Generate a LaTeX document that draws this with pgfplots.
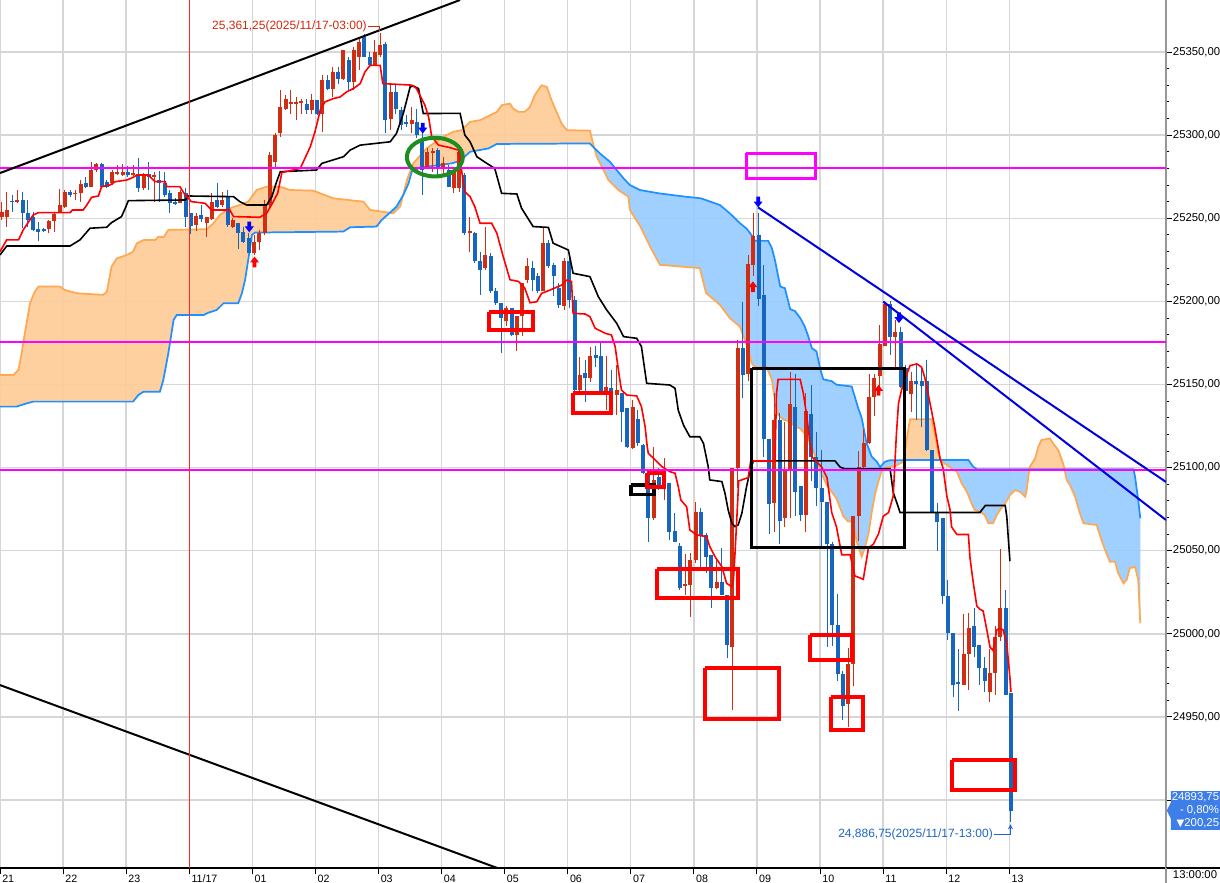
\documentclass[border=0pt]{standalone}
\usepackage{fontspec}
\setmainfont{Liberation Sans}
\newfontfamily\dejavu{DejaVu Sans}
\usepackage{pgfplots}
\usepackage{pgfplotstable}
\pgfplotsset{compat=1.18}
\usepgfplotslibrary{fillbetween}

\definecolor{cup}{RGB}{208,46,18}
\definecolor{cdn}{RGB}{22,102,192}
\definecolor{spanA}{RGB}{255,168,82}
\definecolor{spanB}{RGB}{30,144,255}
\definecolor{fillA}{RGB}{254,204,153}
\definecolor{fillB}{RGB}{153,204,255}
\definecolor{mag}{RGB}{255,0,255}
\definecolor{tblue}{RGB}{0,0,225}
\definecolor{gridc}{RGB}{214,214,214}
\definecolor{annred}{RGB}{210,40,10}
\definecolor{annblue}{RGB}{30,100,200}
\definecolor{boxblue}{RGB}{62,126,232}
\definecolor{grn}{RGB}{30,140,30}
\definecolor{axgray}{RGB}{150,150,150}
\definecolor{seprd}{RGB}{255,40,40}

\pgfdeclareplotmark{darrow}{%
  \pgfpathmoveto{\pgfqpoint{-1.4pt}{4.2pt}}%
  \pgfpathlineto{\pgfqpoint{1.4pt}{4.2pt}}%
  \pgfpathlineto{\pgfqpoint{1.4pt}{0.6pt}}%
  \pgfpathlineto{\pgfqpoint{3.4pt}{0.6pt}}%
  \pgfpathlineto{\pgfqpoint{0pt}{-3.8pt}}%
  \pgfpathlineto{\pgfqpoint{-3.4pt}{0.6pt}}%
  \pgfpathlineto{\pgfqpoint{-1.4pt}{0.6pt}}%
  \pgfpathclose\pgfusepathqfill}
\pgfdeclareplotmark{uarrow}{%
  \pgfpathmoveto{\pgfqpoint{-1.4pt}{-4.2pt}}%
  \pgfpathlineto{\pgfqpoint{1.4pt}{-4.2pt}}%
  \pgfpathlineto{\pgfqpoint{1.4pt}{-0.6pt}}%
  \pgfpathlineto{\pgfqpoint{3.4pt}{-0.6pt}}%
  \pgfpathlineto{\pgfqpoint{0pt}{3.8pt}}%
  \pgfpathlineto{\pgfqpoint{-3.4pt}{-0.6pt}}%
  \pgfpathlineto{\pgfqpoint{-1.4pt}{-0.6pt}}%
  \pgfpathclose\pgfusepathqfill}

\pgfplotstableread{
i o h l c
0 25251 25260 25249 25254
1 25250.6 25266 25245 25255
3 25260 25267 25259 25261
9 25243.4 25249 25241 25248.6
10 25248.6 25254 25242 25252.6
11 25254 25267.5 25254 25258
12 25257 25267 25256 25266
14 25264.4 25267 25261 25265.4
15 25265 25273 25260 25270.4
17 25269 25284 25269 25279
18 25279 25283 25278 25282.6
21 25271 25279 25270 25277.8
22 25276.8 25282 25276 25277.8
23 25276 25282.5 25275.5 25278
25 25276 25282 25275.5 25277
27 25268 25277 25267 25276
29 25275 25278 25260 25276
34 25259 25267 25259 25266
37 25246 25253.4 25242.6 25251.4
39 25247 25251 25239 25250.6
40 25249.4 25265 25249 25260
42 25258 25266 25257 25261
44 25245 25250 25244 25249
48 25229 25240 25228 25236
49 25236 25243 25231 25241
50 25241 25261 25240 25258
51 25258 25290 25256 25288
52 25284 25301 25281 25300
53 25301 25327 25299 25317
54 25316 25324 25315 25322
55 25319 25327 25313 25320
56 25319 25323 25309 25320
57 25319.5 25322 25313 25320.7
59 25315 25325 25313 25321
61 25313 25336 25302 25333
63 25328 25341 25323 25338
65 25334 25351 25333 25351
67 25332 25353 25327 25351
68 25347 25358 25339 25356
71 25342 25357 25342 25350
72 25348 25361.25 25347 25354
74 25310 25331 25303 25326
78 25307 25317 25301 25309
81 25281 25292 25280 25290
82 25289.5 25292 25278 25290.7
84 25281 25287 25276 25283
86 25268 25279 25265 25279
87 25268 25291 25266 25290
89 25241 25251 25230 25242.2
92 25220 25245 25219 25228
96 25188 25197 25185 25196
98 25180 25191 25170 25191
99 25191 25211 25179 25211
100 25213 25226 25211 25221
103 25206 25244 25206 25235
107 25197 25226 25195 25224
110 25146.7 25166.7 25144.7 25155.7
112 25153.7 25172.8 25151.7 25167.1
115 25145.7 25167 25134.6 25148.7
117 25143.7 25161.7 25131.6 25146.7
120 25111.6 25140.7 25111 25136.6
124 25069.5 25112.6 25068.5 25092.6
126 25087.6 25105.6 25080.5 25091.6
130 25029 25048 25023.4 25030.2
131 25029.4 25048.4 25010.4 25044.4
132 25044.4 25079.5 25042.4 25073.5
136 25027.4 25045.4 25026.8 25031.4
139 24992.3 25099.6 24954.2 25099.6
140 25099.6 25176.8 25087.6 25171.8
142 25156.2 25228 25152 25222.7
143 25221.6 25253.3 25215.3 25239.6
147 25079 25144.6 25061 25128.8
149 25069.7 25127.7 25064.4 25098.2
150 25098.2 25157.3 25069.7 25138.3
153 25071.8 25144.6 25061.3 25134
161 24957.9 24991.6 24944.2 24982.1
162 24982.1 25070.8 24968.4 25070.8
163 25070.8 25109.8 25056 25100.3
164 25100.3 25123.5 25100 25115.1
165 25115.1 25156.2 25114 25142.5
166 25142.5 25156.2 25130.9 25154.1
167 25155.2 25185.8 25148.8 25174.1
168 25173.1 25200.5 25173.1 25198.4
170 25178.4 25188.9 25160.4 25181.5
173 25144 25157.3 25133.5 25152
183 24969.4 25011.7 24969.4 24988
184 24988 25012.7 24966.3 25003.4
188 24965.2 24991 24959 24976.6
189 24976.6 25005 24963 24998.3
190 24998.3 25050.9 24996 25015.8
}\upc

\pgfplotstableread{
i o h l c
2 25260.5 25264 25254 25259.5
4 25261 25266 25244 25253.4
5 25253.4 25261 25244.5 25249
6 25250.6 25254 25242.6 25243
7 25243.4 25248 25236.5 25241.8
8 25243.4 25244 25242 25242.4
13 25266 25267 25262.6 25264
16 25271.4 25275 25268 25268.6
19 25282.6 25283 25268 25269
20 25272 25273 25268 25269
24 25277.8 25281.5 25275 25275.8
26 25276.5 25286 25266 25268
28 25276.5 25284 25267 25275
30 25273 25278.6 25260 25271
31 25271 25278 25263 25264
32 25265 25267 25253.4 25259
33 25259.8 25262 25258 25258.8
35 25265 25268 25245 25251
36 25253.4 25253.4 25240.6 25245.4
38 25252 25258 25248 25249.4
41 25261 25271 25256 25257
43 25262.6 25267 25245 25246
45 25247 25247 25231.7 25241
46 25242 25245 25235 25236
47 25238 25241 25229 25229
58 25319 25322 25313 25315
60 25321 25321 25312 25313
62 25333 25336 25327 25328
64 25338 25341 25331 25334
66 25345 25347 25327 25332
69 25359 25361 25347 25347
70 25347 25350 25341 25342
73 25355 25356 25301 25309
75 25326 25331 25313 25316
76 25315 25317 25303 25306
77 25308 25312 25305 25307
79 25308 25316 25298 25300
80 25297 25301 25264 25279
83 25291 25292 25275 25281
85 25279 25282 25269 25269
88 25276 25277 25240 25241
90 25241 25242 25223 25224
91 25224 25230 25204 25219
93 25227.5 25229 25205 25206
94 25206 25208 25198 25199
95 25199 25199 25169 25190
97 25196 25196 25179 25180
101 25220 25224 25206 25213
102 25215 25217 25205 25206
104 25235 25237 25220 25221
105 25222 25223 25203 25215
106 25208 25211 25196 25198
108 25224 25227 25196 25201
109 25200.8 25203 25146 25146.7
111 25156.7 25164.7 25139.7 25153.7
113 25167.7 25173 25160.7 25165.7
114 25167 25175 25145.7 25145.7
116 25147.7 25158.7 25139.7 25143.7
118 25144.7 25144.7 25115.6 25133.6
119 25135.6 25136 25112 25112.6
121 25129 25134.6 25113 25114.6
122 25113.6 25114 25096 25096.6
123 25095.6 25096 25055.5 25069.5
125 25094.6 25100 25086.5 25087.6
127 25091 25091 25056.5 25061.5
128 25062 25072.5 25055.5 25055.5
129 25052.9 25054.5 25026.4 25027.4
133 25073.5 25075.5 25038.4 25059.5
134 25059.5 25060.5 25036.4 25046.4
135 25047.4 25047.4 25015.4 25027.4
137 25031.4 25051.5 25023.4 25023.4
138 25023.4 25023.4 24985.3 24993.3
141 25171.8 25199.8 25141.7 25155.7
144 25240 25253.3 25197.4 25201.6
145 25204 25221.6 25106.6 25117
146 25117 25117 25060 25078
148 25128.8 25133 25053.9 25067.6
151 25136.2 25156.2 25070.8 25085.5
152 25088.7 25088.7 25067.6 25071.8
154 25132 25149.9 25091.9 25106.6
155 25106.6 25121.4 25077 25087.6
156 25087.6 25110.9 25052.8 25079.2
157 25079.2 25079.2 24992 25053.9
158 25053.9 25055 24992.7 25005.4
159 25005.4 25024 24971.6 24975.8
160 24975.8 24977.9 24948.4 24956.9
169 25198.4 25200.5 25167.8 25178.4
171 25181.5 25184.7 25147.8 25148.8
172 25160 25162 25136 25146
174 25152 25162.4 25128.4 25150.5
175 25152 25161.4 25124.2 25149
176 25152 25164.5 25109.8 25110.8
177 25110.8 25110.8 25072.6 25073.6
178 25073.6 25078.8 25049.9 25067.4
179 25069.5 25069.5 25017.9 25023
180 25023 25032.3 24996.2 25000.3
181 25000.3 25000.3 24962.1 24969.3
182 24971 24991 24953.9 24969.8
185 25004.5 25015.8 24985.9 24992.1
186 24993.1 24993.1 24969.4 24979.7
187 24979.7 24985.9 24965.2 24971.4
191 25015.8 25026.2 24963 24963.2
192 24964.2 24964.2 24886.75 24893.75
}\dnc

\begin{document}
\begin{tikzpicture}
\begin{axis}[
  set layers,
  scale only axis, width=874.5pt, height=651.2pt,
  xmin=-0.32, xmax=221.49, ymin=24859, ymax=25381.3,
  axis x line*=bottom, axis y line*=right,
  xtick pos=bottom, ytick pos=right, yticklabel pos=right,
  x axis line style={black, line width=1.5pt, -},
  y axis line style={axgray, line width=1.5pt, -},
  xtick={-0.32,11.68,23.68,47.68,59.68,71.68,83.68,95.68,107.68,119.68,131.68,143.68,155.68,167.68,179.68,191.68},
  xticklabels={21,22,23,01,02,03,04,05,06,07,08,09,10,11,12,13},
  extra x ticks={35.68}, extra x tick labels={11/17},
  extra x tick style={grid=none},
  ytick={24950,25000,...,25350},
  extra y ticks={24900}, extra y tick labels={},
  extra y tick style={grid=major},
  minor y tick num=4,
  scaled y ticks=false,
  tick align=outside,
  major tick length=4.5pt, minor tick length=2.5pt,
  tick style={black, line width=0.75pt},
  grid=major, major grid style={gridc, line width=1pt},
  yticklabel style={font=\fontsize{8.5}{9}\selectfont, anchor=west, inner sep=0.5pt},
  xticklabel style={font=\fontsize{8}{9}\selectfont, anchor=north west, inner sep=0.5pt, xshift=1pt},
  /pgf/number format/fixed, /pgf/number format/fixed zerofill,
  /pgf/number format/precision=2, /pgf/number format/use comma,
  /pgf/number format/1000 sep={}, /pgf/number format/assume math mode=true,
]
% ---- Ichimoku cloud ----
\addplot[name path=A, spanA, line width=1.3pt] coordinates {
(-0.32,25155.7) (2.2,25155.7) (3.2,25158.8) (3.8,25168.8) (4.4,25180.8) (5.4,25198.9) (6.3,25205.9) (7.0,25208.9) (11.1,25208.9) (12.0,25206.9) (14.3,25204.9) (19.3,25203.9) (20.0,25205.9) (20.9,25220.9) (21.9,25225.9) (23.8,25227.9) (25.0,25229.9) (25.7,25234.9) (27.0,25236.9) (29.2,25236.9) (29.8,25238.9) (30.8,25238.6) (31.7,25243.0) (39.0,25243.4) (40.3,25247.0) (41.5,25252.0) (43.4,25256.0) (45.3,25258.0) (46.9,25260.0) (48.5,25267.0) (50.4,25269.0) (53.0,25269.0) (54.8,25267.0) (59.3,25266.6) (60.6,25265.0) (63.1,25262.0) (68.8,25260.0) (70.1,25255.0) (74.5,25253.0) (75.8,25257.0) (76.4,25264.5) (77.2,25274.0) (78.3,25283.0) (80.8,25292.0) (84.0,25299.0) (85.9,25302.0) (87.5,25303.0) (89.1,25308.0) (91.0,25309.0) (92.3,25311.0) (94.2,25314.0) (95.1,25318.0) (96.7,25319.0) (97.3,25316.0) (98.3,25314.0) (99.5,25314.0) (100.5,25317.0) (101.4,25324.0) (102.7,25330.0) (103.7,25329.0) (104.6,25321.0) (106.5,25307.0) (107.5,25303.0) (111.9,25302.7) (112.5,25295.0) (113.2,25287.0) (114.5,25279.0) (115.4,25273.0) (117.3,25267.0) (119.2,25263.0) (119.5,25255.0) (121.5,25245.0) (123.5,25232.0) (125.2,25222.0) (132.8,25220.0) (134.0,25205.0) (136.6,25198.0) (138.5,25190.0) (140.45,25184.7) (141.7,25174.1) (142.7,25162.6) (143.3,25160.4) (145.5,25160.4) (146.5,25153.1) (147.1,25140.4) (147.7,25132.0) (148.7,25128.8) (150.0,25127.7) (150.9,25124.6) (151.9,25123.5) (153.1,25119.3) (154.1,25113.0) (155.0,25104.5) (156.0,25096.1) (156.9,25089.8) (157.9,25085.5) (158.8,25081.3) (160.1,25070.8) (161.0,25067.6) (162.0,25067.6) (162.6,25056.0) (163.6,25046.5) (164.2,25051.8) (164.9,25060.2) (165.5,25072.9) (166.1,25083.4) (166.8,25091.9) (167.4,25098.2) (168.3,25100.0) (170.0,25101.0) (171.5,25103.5) (172.2,25118.0) (172.8,25129.1) (176.9,25129.1) (177.5,25120.6) (178.2,25108.6) (178.8,25103.6) (179.8,25101.6) (181.7,25097.6) (182.6,25090.6) (183.6,25085.5) (184.5,25078.5) (185.1,25074.5) (186.1,25073.5) (187.0,25071.5) (187.7,25066.5) (188.6,25066.5) (189.3,25071.5) (189.9,25074.5) (190.9,25078.5) (191.8,25083.5) (192.8,25086.5) (193.7,25085.5) (194.7,25082.5) (195.0,25086.5) (195.3,25094.6) (195.6,25100.6) (196.6,25105.6) (197.2,25112.6) (197.8,25116.6) (199.4,25117.6) (200.0,25114.6) (201.0,25110.6) (202.0,25101.6) (202.6,25092.6) (203.2,25089.6) (204.2,25082.5) (205.1,25072.5) (205.8,25066.5) (208.3,25065.5) (209.2,25056.5) (209.9,25050.5) (210.8,25043.4) (211.8,25043.4) (212.4,25036.4) (213.4,25030.4) (214.0,25032.4) (214.6,25039.4) (215.6,25040.4) (216.2,25032.4) (216.5,25012.4) (216.6,25006.4)};
\addplot[name path=B, spanB, line width=1.3pt] coordinates {
(-0.32,25136.7) (2.8,25136.7) (4.8,25138.7) (6.0,25139.7) (25.0,25139.7) (26.0,25143.7) (27.0,25145.7) (30.1,25145.7) (30.75,25152.7) (31.7,25168.8) (32.7,25188.8) (33.3,25191.8) (38.4,25191.8) (39.3,25193.2) (40.9,25194.8) (42.2,25198.9) (45.0,25198.9) (45.7,25204.9) (46.3,25212.9) (46.9,25224.9) (47.6,25240.0) (48.2,25241.4) (65.0,25242.0) (66.3,25244.6) (71.3,25245.0) (72.3,25249.0) (73.9,25253.5) (75.1,25257.0) (76.4,25264.0) (77.4,25271.0) (78.0,25278.0) (79.6,25280.5) (85.6,25283.0) (87.2,25284.6) (89.1,25290.0) (92.6,25292.0) (94.2,25294.7) (111.9,25295.0) (113.8,25289.0) (115.7,25284.0) (117.0,25279.0) (118.3,25274.0) (119.5,25270.0) (121.4,25267.0) (125.0,25265.0) (130.0,25263.0) (133.0,25262.0) (136.6,25258.0) (138.5,25253.0) (140.45,25247.0) (141.7,25243.8) (142.7,25239.6) (143.3,25236.4) (145.8,25236.4) (146.5,25232.2) (147.1,25224.8) (148.1,25209.0) (149.0,25207.9) (150.0,25195.3) (150.9,25194.2) (151.9,25190.0) (152.8,25184.7) (153.5,25178.4) (154.1,25172.0) (155.0,25169.9) (155.7,25159.4) (156.3,25153.1) (157.9,25152.0) (158.8,25149.9) (161.7,25148.8) (162.3,25142.5) (162.9,25136.2) (163.6,25129.9) (164.5,25115.1) (165.5,25106.6) (166.5,25103.5) (167.1,25100.3) (168.0,25103.5) (169.0,25104.5) (183.9,25104.6) (184.8,25100.6) (185.5,25099.0) (215.3,25099.0) (215.6,25094.6) (216.2,25080.5) (216.6,25069.5)};
\addplot[draw=none, fill=fillA, fill opacity=0.93] fill between[of=A and B, split,
  every even segment/.style={fill=fillA},
  every odd segment/.style={fill=fillB}];

% ---- candles ----
\addplot[draw=none, mark=none, error bars/.cd, y dir=plus, y explicit, error mark=none,
  error bar style={draw=cup, line width=0.75pt}]
  table[x=i, y=l, y error expr=\thisrow{h}-\thisrow{l}] {\upc};
\addplot[draw=none, mark=none, error bars/.cd, y dir=plus, y explicit, error mark=none,
  error bar style={draw=cup, line width=3pt}]
  table[x=i, y=o, y error expr=\thisrow{c}-\thisrow{o}] {\upc};
\addplot[draw=none, mark=none, error bars/.cd, y dir=plus, y explicit, error mark=none,
  error bar style={draw=cdn, line width=0.75pt}]
  table[x=i, y=l, y error expr=\thisrow{h}-\thisrow{l}] {\dnc};
\addplot[draw=none, mark=none, error bars/.cd, y dir=plus, y explicit, error mark=none,
  error bar style={draw=cdn, line width=3pt}]
  table[x=i, y=c, y error expr=\thisrow{o}-\thisrow{c}] {\dnc};

% ---- kijun (black) ----
\addplot[black, line width=1.2pt] coordinates {
(-0.32,25227.9) (0.95,25233.3) (13.0,25233.3) (14.9,25237.0) (16.8,25244.0) (20.0,25244.6) (20.9,25247.4) (22.8,25251.0) (23.5,25256.0) (24.1,25260.6) (34.9,25261.0) (35.5,25263.4) (44.1,25263.0) (45.3,25260.0) (46.6,25258.0) (50.4,25258.0) (51.4,25263.0) (52.3,25272) (53.0,25278.0) (59.9,25279.0) (60.9,25283.0) (65.0,25287.0) (66.3,25291.0) (68.2,25294.0) (73.9,25296.0) (75.1,25301.0) (76.4,25313.0) (77.7,25329.0) (78.3,25329.6) (79.3,25328.0) (80.2,25313.0) (87.2,25313.1) (88.1,25300.1) (89.1,25296.0) (90.4,25287.0) (92.3,25283.0) (93.8,25280.0) (95.1,25265.0) (98.0,25264.6) (98.9,25256.0) (99.9,25251.0) (101.1,25245.0) (104.0,25244.5) (104.9,25235.0) (107.8,25230.9) (108.7,25216.9) (111.9,25214.9) (113.5,25202.8) (115.1,25194.8) (117.0,25186.8) (118.3,25178.8) (120.8,25177.8) (121.7,25172.8) (122.7,25150.7) (127.1,25149.7) (128.1,25147.7) (128.7,25134.6) (129.7,25125.6) (130.9,25118.6) (132.8,25118.6) (133.5,25114.6) (134.4,25100.6) (134.7,25092.6) (137.0,25091.6) (137.6,25084.5) (138.2,25074.5) (138.9,25066.5) (139.5,25064.5) (140.1,25065.5) (140.8,25072.5) (141.7,25088.6) (142.4,25098.6) (143.0,25104.1) (158.5,25104.1) (159.5,25100.3) (160.4,25099.3) (169.0,25099.3) (169.6,25085) (170.25,25079.2) (170.9,25073.0) (186.1,25073.0) (187.1,25077.2) (190.9,25077.2) (191.2,25070.5) (191.8,25043.7)};

% ---- tenkan (red) ----
\addplot[red, line width=1.2pt] coordinates {
(-0.32,25229.9) (0.95,25237) (3.2,25237) (4.1,25243) (6.0,25252) (7.0,25253.4) (13.0,25253.4) (13.5,25255) (15.5,25255) (16.2,25258) (17.1,25262.6) (18.4,25263.4) (19.0,25269) (20.6,25270) (21.6,25272) (23.8,25273) (25.0,25274.6) (25.7,25276) (27.9,25276) (28.5,25274) (29.2,25272) (31.1,25272) (31.4,25269) (33.9,25269) (34.9,25264) (36.1,25260) (38.7,25259) (39.9,25255) (43.4,25255) (44.1,25251) (49.1,25250.6) (50.4,25253) (51.5,25259) (52.5,25265) (53.3,25277.5) (56.8,25280) (58.7,25293) (59.6,25302) (60.6,25315) (61.5,25320) (63.1,25322) (64.4,25323) (65.6,25326) (66.9,25328) (68.2,25331) (69.1,25338) (70.1,25342) (72.0,25342) (72.5,25331) (78.0,25330.1) (78.9,25328.1) (80.5,25318.1) (81.2,25311.1) (81.8,25299.1) (83.1,25294) (85.0,25292.7) (86.9,25291) (88.1,25266) (89.1,25263) (90.0,25257) (91.0,25247) (93.2,25247) (94.2,25241) (95.4,25227) (96.7,25213) (98.3,25212) (99.5,25208) (100.5,25199.2) (101.8,25199.8) (102.7,25204.8) (104.3,25206.8) (106.5,25209.8) (107.5,25212.8) (108.4,25212) (108.7,25192.8) (111.0,25192.4) (111.9,25190.8) (112.9,25183.8) (114.8,25180.8) (116.0,25179.8) (116.7,25172.8) (117.5,25154.7) (117.9,25146.7) (118.9,25143.7) (120.8,25143.1) (121.7,25136.7) (122.4,25124.6) (122.8,25112.6) (123.0,25108.6) (124.0,25105.6) (125.6,25100.6) (127.1,25097.6) (128.1,25096.6) (128.7,25088.6) (129.2,25080.5) (130.3,25076.5) (130.9,25062.5) (132.2,25059.5) (134.1,25058.5) (134.7,25052.5) (135.7,25046.4) (137.0,25040.4) (137.9,25030.4) (138.9,25028.4) (139.2,25032.4) (139.5,25048.5) (139.8,25066.5) (140.2,25092) (142.0,25094) (142.5,25104) (147.1,25104) (147.4,25144.6) (147.7,25153.1) (151.9,25153.1) (152.5,25144.6) (153.1,25132) (154.1,25106.6) (156.0,25100.3) (157.0,25094) (157.9,25072.9) (158.8,25064.4) (159.8,25047.6) (161.4,25047.6) (162.3,25034.9) (163.9,25032.8) (164.9,25051.8) (165.8,25053.9) (166.8,25060.2) (167.7,25070.8) (168.7,25072.9) (169.6,25083) (170.2,25120.1) (170.6,25138.7) (171.2,25147) (172.2,25156.3) (172.8,25161.4) (174.1,25162.4) (175.0,25160.4) (175.6,25154.2) (176.6,25138.7) (177.5,25124.2) (178.5,25105.6) (179.1,25099.4) (179.8,25082.9) (180.4,25074.7) (180.7,25064.3) (181.7,25059.8) (183.9,25059.8) (184.2,25045.8) (184.8,25031.3) (185.5,25016.8) (186.1,25014.8) (186.7,25013.8) (187.4,25002.4) (188.0,24992.1) (188.6,24990) (189.3,25002.4) (189.9,25003.4) (190.5,25002.4) (191.2,24994.1) (191.8,24973.5) (192.0,24965)};

% ---- horizontal levels ----
\addplot[mag, line width=1.5pt] coordinates {(-0.32,25280) (221.49,25280)};
\addplot[mag, line width=1.5pt] coordinates {(-0.32,25175.5) (221.49,25175.5)};
\addplot[mag, line width=1.5pt] coordinates {(-0.32,25098.5) (221.49,25098.5)};

% ---- trend lines ----
\addplot[black, line width=1.5pt] coordinates {(-0.32,25277.2) (87.2,25381.3)};
\addplot[black, line width=1.5pt] coordinates {(-0.32,24969.2) (94.5,24858.9)};
\addplot[tblue, line width=1.5pt] coordinates {(143.9,25256.5) (221.49,25091.4)};
\addplot[tblue, line width=1.5pt] coordinates {(167.7,25199.9) (221.49,25068.5)};

% ---- boxes ----
\addplot[mag, line width=2.25pt, line join=miter] coordinates {(141.6,25289.2) (154.9,25289.2) (154.9,25274.2) (141.6,25274.2) (141.6,25289.2)};
\addplot[black, line width=2.25pt, line join=miter] coordinates {(142.7,25159.8) (171.8,25159.8) (171.8,25052.2) (142.7,25052.2) (142.7,25159.8)};
\addplot[black, line width=2.6pt, line join=miter] coordinates {(119.7,25089.6) (124.1,25089.6) (124.1,25083.9) (119.7,25083.9) (119.7,25089.6)};
\addplot[red, line width=3pt, line join=miter] coordinates {(92.7,25193.6) (101.1,25193.6) (101.1,25182.8) (92.7,25182.8) (92.7,25193.6)};
\addplot[red, line width=3pt, line join=miter] coordinates {(108.6,25145.1) (116.0,25145.1) (116.0,25132.7) (108.6,25132.7) (108.6,25145.1)};
\addplot[red, line width=3pt, line join=miter] coordinates {(122.8,25096.9) (126.0,25096.9) (126.0,25088.5) (122.8,25088.5) (122.8,25096.9)};
\addplot[red, line width=3pt, line join=miter] coordinates {(124.7,25039) (140.0,25039) (140.0,25021.4) (124.7,25021.4) (124.7,25039)};
\addplot[red, line width=3pt, line join=miter] coordinates {(133.7,24979.7) (147.9,24979.7) (147.9,24948.8) (133.7,24948.8) (133.7,24979.7)};
\addplot[red, line width=3pt, line join=miter] coordinates {(153.8,24999.5) (161.7,24999.5) (161.7,24984.3) (153.8,24984.3) (153.8,24999.5)};
\addplot[red, line width=3pt, line join=miter] coordinates {(157.8,24962.2) (163.9,24962.2) (163.9,24942) (157.8,24942) (157.8,24962.2)};
\addplot[red, line width=3pt, line join=miter] coordinates {(180.7,24924.4) (192.8,24924.4) (192.8,24905.8) (180.7,24905.8) (180.7,24924.4)};
\draw[grn, line width=3pt] (axis cs:82.4,25286.8) ellipse [x radius=21pt, y radius=14.5pt];

% ---- day separator (thin filled band) ----
\fill[seprd] (axis cs:35.54,24859) rectangle (axis cs:35.82,25381.3);

% ---- signal arrows ----
\addplot[only marks, mark=darrow, blue, mark options={fill=blue, draw=none}] coordinates {(47.1,25244.6) (80.1,25304) (143.9,25259.6) (170.7,25190)};
\addplot[only marks, mark=uarrow, red, mark options={fill=red, draw=none}] coordinates {(48.1,25223.9) (142.9,25209) (166.8,25146.7)};

% ---- annotations ----
\node[anchor=east, text=annred, font=\fontsize{9}{10}\selectfont, inner sep=0pt] at (axis cs:69.5,25365.6) {25,361,25(2025/11/17-03:00)};
\draw[annred, line width=0.75pt] (axis cs:69.7,25365.6) -- (axis cs:71.9,25365.6) -- (axis cs:71.9,25362.5);
\node[anchor=east, text=annblue, font=\fontsize{9}{10}\selectfont, inner sep=0pt] at (axis cs:188.6,24879.6) {24,886,75(2025/11/17-13:00)};
\draw[annblue, line width=0.75pt, ->, >=stealth] (axis cs:188.8,24879.6) -- (axis cs:191.9,24879.6) -- (axis cs:191.9,24885.5);

\coordinate (SW) at (rel axis cs:0,0);
\coordinate (NE) at (rel axis cs:1,1);
\coordinate (SE) at (rel axis cs:1,0);
\coordinate (PB) at (axis cs:221.49,24893.75);
\end{axis}
% extensions of the axis frame into the label area
\draw[black, line width=1.5pt] (SE) -- ++(41pt,0);
\draw[axgray, line width=1.5pt] (SE) -- ++(0,-11pt);
\node[anchor=north west, font=\fontsize{8.5}{9}\selectfont, inner sep=0pt] at ([xshift=5pt,yshift=-1.6pt]SE) {13:00:00};
% current price box
\fill[boxblue] ([xshift=0.6pt]PB) -- ([xshift=3.6pt,yshift=6pt]PB) -- ([xshift=3.6pt,yshift=14.6pt]PB)
  -- ([xshift=41pt,yshift=14.6pt]PB) -- ([xshift=41pt,yshift=-14.6pt]PB)
  -- ([xshift=3.6pt,yshift=-14.6pt]PB) -- ([xshift=3.6pt,yshift=-6pt]PB) -- cycle;
\node[anchor=east, text=white, inner sep=0pt, align=right, font=\fontsize{8.5}{9.8}\selectfont] at ([xshift=40pt]PB) {24893,75\\- 0,80\%\\{\dejavu\fontsize{7.5}{9.8}\selectfont ▼}200,25};
\pgfresetboundingbox
\path[use as bounding box] ([yshift=-11pt]SW) rectangle ([xshift=40.5pt]NE);
\end{tikzpicture}
\end{document}
